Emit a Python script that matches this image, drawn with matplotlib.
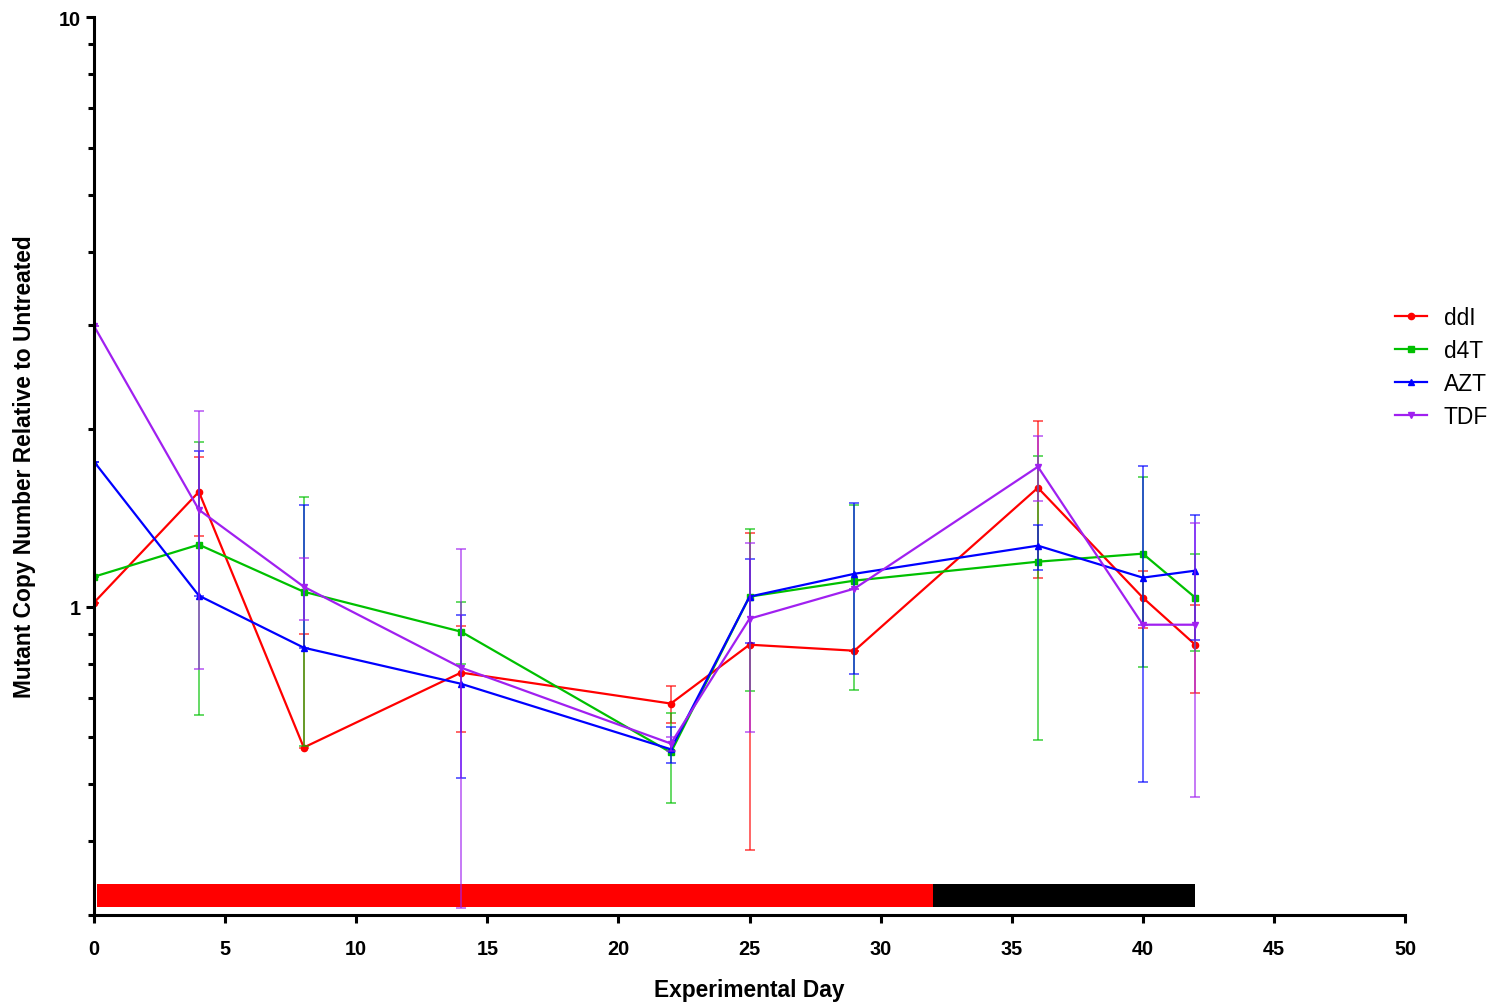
import matplotlib
matplotlib.use('Agg')
import matplotlib.pyplot as plt
import numpy as np
from matplotlib.ticker import FixedLocator, FixedFormatter, NullFormatter

plt.rcParams['font.family'] = ['Liberation Sans', 'DejaVu Sans']

# experimental days
days = [0, 4, 8, 14, 22, 25, 29, 36, 40, 42]

# mean values and error bar ends (lower / upper)
ddi = [1.016, 1.566, 0.577, 0.773, 0.685, 0.862, 0.842, 1.591, 1.036, 0.862]
ddi_lo = [1.016, 1.319, 0.577, 0.612, 0.634, 0.386, 0.842, 1.120, 0.921, 0.715]
ddi_hi = [1.016, 1.796, 0.900, 0.929, 0.735, 1.335, 0.842, 2.067, 1.151, 1.008]

d4t = [1.124, 1.274, 1.060, 0.907, 0.566, 1.040, 1.107, 1.192, 1.230, 1.036]
d4t_lo = [1.124, 0.656, 0.581, 0.800, 0.465, 0.720, 0.723, 0.593, 0.791, 0.842]
d4t_hi = [1.124, 1.904, 1.536, 1.020, 0.661, 1.356, 1.490, 1.803, 1.661, 1.230]

azt = [1.762, 1.044, 0.852, 0.740, 0.573, 1.040, 1.137, 1.269, 1.120, 1.151]
azt_lo = [1.762, 1.044, 0.852, 0.513, 0.544, 0.869, 0.770, 1.155, 0.505, 0.879]
azt_hi = [1.762, 1.838, 1.489, 0.969, 0.624, 1.206, 1.501, 1.377, 1.734, 1.432]

tdf = [2.992, 1.460, 1.081, 0.788, 0.586, 0.954, 1.073, 1.727, 0.932, 0.932]
tdf_lo = [2.992, 0.785, 0.951, 0.308, 0.570, 0.612, 1.073, 1.512, 0.932, 0.476]
tdf_hi = [2.992, 2.149, 1.211, 1.254, 0.602, 1.284, 1.073, 1.949, 0.932, 1.388]

# treatment periods shown as bars at the bottom (start, end)
on_drug = (0.1, 32)
off_drug = (32, 42)
bar_low, bar_high = 0.309, 0.339

series = [
    ('ddI', ddi, ddi_lo, ddi_hi, '#FF0000', 'o'),
    ('d4T', d4t, d4t_lo, d4t_hi, '#00C000', 's'),
    ('AZT', azt, azt_lo, azt_hi, '#0000FF', '^'),
    ('TDF', tdf, tdf_lo, tdf_hi, '#A020F0', 'v'),
]

fig = plt.figure(figsize=(14.89, 10.03), dpi=100, facecolor='white')
ax = fig.add_axes([94/1489, 1-916/1003, (1405-94)/1489, (916-18)/1003])

for name, m, lo, hi, c, mk in series:
    m = np.array(m)
    yerr = [m - np.array(lo), np.array(hi) - m]
    ax.errorbar(days, m, yerr=yerr, fmt='none', ecolor=c, alpha=0.7,
                elinewidth=1.2, capsize=3.5, capthick=1.2)
    ax.plot(days, m, color=c, marker=mk, markersize=4.5, linewidth=1.6,
            label=name)

ax.fill_between(on_drug, bar_low, bar_high, color='#FF0000', linewidth=0)
ax.fill_between(off_drug, bar_low, bar_high, color='black', linewidth=0)

ax.set_yscale('log')
ax.set_ylim(0.3, 10)
ax.set_xlim(0, 50)

ax.yaxis.set_major_locator(FixedLocator([1, 10]))
ax.yaxis.set_major_formatter(FixedFormatter(['1', '10']))
ax.yaxis.set_minor_locator(FixedLocator([0.3, 0.4, 0.5, 0.6, 0.7, 0.8, 0.9,
                                         2, 3, 4, 5, 6, 7, 8, 9]))
ax.yaxis.set_minor_formatter(NullFormatter())
ax.set_xticks(np.arange(0, 51, 5))

for side in ['top', 'right']:
    ax.spines[side].set_visible(False)
for side in ['left', 'bottom']:
    ax.spines[side].set_linewidth(2.2)

ax.tick_params(axis='both', which='major', length=6, width=2.2,
               labelsize=14.3)
ax.tick_params(axis='x', which='major', pad=11)
ax.tick_params(axis='y', which='major', pad=3.5)
ax.tick_params(axis='y', which='minor', length=4, width=2.2)
for lab in ax.get_xticklabels() + ax.get_yticklabels():
    lab.set_fontweight('bold')

ax.set_xlabel('Experimental Day', fontsize=16.4, fontweight='bold')
ax.set_ylabel('Mutant Copy Number Relative to Untreated', fontsize=16.4,
              fontweight='bold')
ax.xaxis.set_label_coords(0.5, -(979 - 916) / 898)
ax.yaxis.set_label_coords(-(94 - 36) / 1311, 0.5)

fig.legend(loc='center left', bbox_to_anchor=(1395/1489, 1 - 368/1003),
           frameon=False, fontsize=16.4, handlelength=1.4, labelspacing=0.45,
           handletextpad=0.75, borderpad=0, borderaxespad=0)

fig.savefig('out.png', dpi=100, facecolor='white')
